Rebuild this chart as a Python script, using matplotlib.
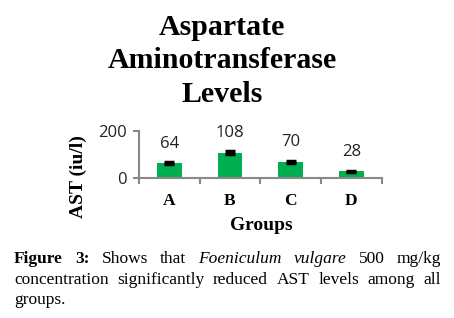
import numpy as np
import matplotlib.pyplot as plt
from matplotlib.ticker import FixedLocator

# groups and AST values
groups = ['A', 'B', 'C', 'D']
ast = [64, 108, 70, 28]
err = [5, 7, 4, 4]
title_lines = ['Aspartate', 'Aminotransferase', 'Levels']

fig = plt.figure(figsize=(4.54, 3.18), dpi=100)
ax = fig.add_axes([0.306, 0.44, 0.535, 0.148])

x = np.arange(len(groups))
ax.bar(x, ast, width=0.41, color='#00b050', yerr=err,
       error_kw=dict(ecolor='black', elinewidth=1.5, capsize=3.6, capthick=2.5))

for xi, v in zip(x, ast):
    ax.annotate(str(v), (xi, v), xytext=(0, 14), textcoords='offset points',
                ha='center', va='center', fontsize=12, family='Open Sans', color='#222222')

ax.set_xlim(-0.5, 3.5)
ax.set_ylim(0, 200)
ax.set_yticks([0, 200])
ax.tick_params(axis='y', labelsize=12, length=4, width=1.5, color='#888888',
               labelcolor='#222222', pad=5)
for lab in ax.get_yticklabels():
    lab.set_family('Open Sans')
ax.set_xticks(x)
ax.set_xticklabels(groups, family='Liberation Serif', fontweight='bold', fontsize=12.5)
ax.tick_params(axis='x', which='major', length=0, pad=11)
ax.xaxis.set_minor_locator(FixedLocator([-0.5, 0.5, 1.5, 2.5, 3.5]))
ax.tick_params(axis='x', which='minor', length=4, width=1.5, color='#888888')

for s in ['top', 'right']:
    ax.spines[s].set_visible(False)
for s in ['left', 'bottom']:
    ax.spines[s].set_color('#888888')
    ax.spines[s].set_linewidth(1.5)

H = 318
fig.text(261 / 454, 1 - 230 / H, 'Groups', family='Liberation Serif', fontweight='bold',
         fontsize=14, ha='center', va='baseline')
fig.text(78 / 454, 1 - 177 / H, 'AST (iu/l)', family='Liberation Serif', fontweight='bold',
         fontsize=14, ha='center', va='center', rotation=90)

for line, base in zip(title_lines, [35, 68.5, 102]):
    fig.text(222 / 454, 1 - base / H, line, ha='center', va='baseline',
             family='Liberation Serif', fontweight='bold', fontsize=21.5)

# caption, justified by hand
renderer = fig.canvas.get_renderer()
left, right = 14, 441

def put_line(words, ypix, justify):
    items = []
    for w, style, weight in words:
        t = fig.text(0, 1 - ypix / H, w, family='Liberation Serif', fontsize=12.5,
                     style=style, fontweight=weight, va='center', ha='left')
        items.append(t)
    widths = [t.get_window_extent(renderer).width for t in items]
    if justify and len(items) > 1:
        gap = (right - left - sum(widths)) / (len(items) - 1)
    else:
        gap = 4
    xpos = left
    for t, w in zip(items, widths):
        t.set_x(xpos / 454)
        xpos += w + gap

line1 = [('Figure', 'normal', 'bold'), ('3:', 'normal', 'bold'), ('Shows', 'normal', 'normal'),
         ('that', 'normal', 'normal'), ('Foeniculum', 'italic', 'normal'), ('vulgare', 'italic', 'normal'),
         ('500', 'normal', 'normal'), ('mg/kg', 'normal', 'normal')]
line2 = [(w, 'normal', 'normal') for w in
         'concentration significantly reduced AST levels among all'.split()]
line3 = [('groups.', 'normal', 'normal')]
put_line(line1, 259, True)
put_line(line2, 280, True)
put_line(line3, 300, False)

fig.savefig('out.png', dpi=100)
